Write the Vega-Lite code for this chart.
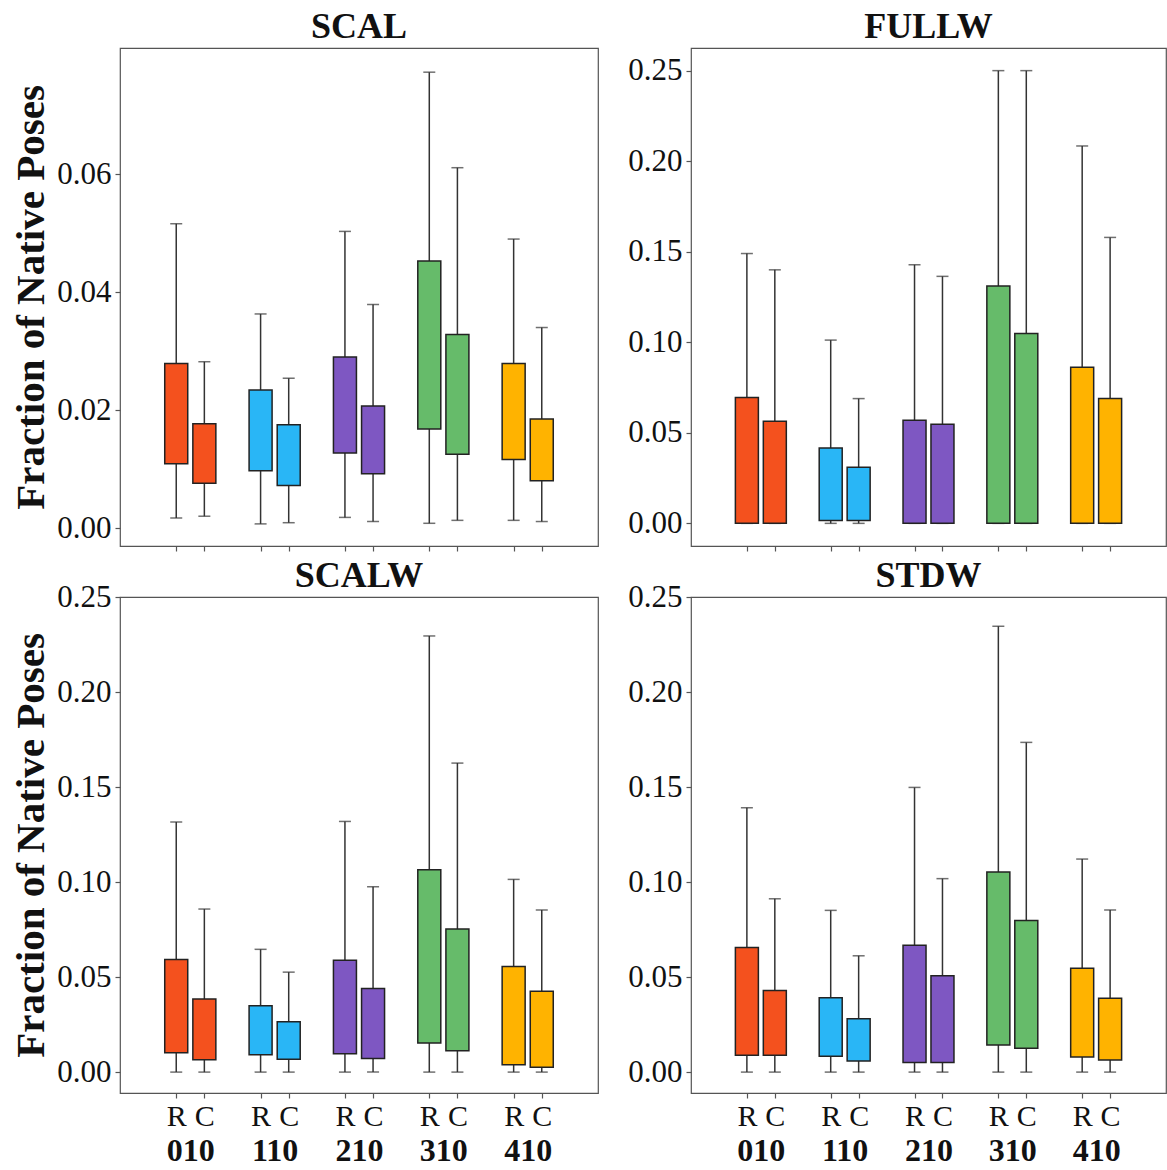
{
  "$schema": "https://vega.github.io/schema/vega-lite/v6.json",
  "padding": {"left": 10, "top": 8, "right": 0, "bottom": 0},
  "background": "white",
  "datasets": {
    "boxes": [
      {"panel": "SCAL", "group": "010", "type": "R", "box": "010 R", "lo": 0.0017, "q1": 0.0109, "q3": 0.0279, "hi": 0.0516},
      {"panel": "SCAL", "group": "010", "type": "C", "box": "010 C", "lo": 0.0020, "q1": 0.0076, "q3": 0.0177, "hi": 0.0282},
      {"panel": "SCAL", "group": "110", "type": "R", "box": "110 R", "lo": 0.0007, "q1": 0.0097, "q3": 0.0234, "hi": 0.0363},
      {"panel": "SCAL", "group": "110", "type": "C", "box": "110 C", "lo": 0.0009, "q1": 0.0072, "q3": 0.0175, "hi": 0.0254},
      {"panel": "SCAL", "group": "210", "type": "R", "box": "210 R", "lo": 0.0018, "q1": 0.0127, "q3": 0.0290, "hi": 0.0503},
      {"panel": "SCAL", "group": "210", "type": "C", "box": "210 C", "lo": 0.0011, "q1": 0.0092, "q3": 0.0207, "hi": 0.0379},
      {"panel": "SCAL", "group": "310", "type": "R", "box": "310 R", "lo": 0.0008, "q1": 0.0168, "q3": 0.0453, "hi": 0.0773},
      {"panel": "SCAL", "group": "310", "type": "C", "box": "310 C", "lo": 0.0013, "q1": 0.0125, "q3": 0.0328, "hi": 0.0611},
      {"panel": "SCAL", "group": "410", "type": "R", "box": "410 R", "lo": 0.0013, "q1": 0.0116, "q3": 0.0279, "hi": 0.0490},
      {"panel": "SCAL", "group": "410", "type": "C", "box": "410 C", "lo": 0.0011, "q1": 0.0080, "q3": 0.0185, "hi": 0.0340},

      {"panel": "FULLW", "group": "010", "type": "R", "box": "010 R", "lo": 0, "q1": 0, "q3": 0.0695, "hi": 0.149},
      {"panel": "FULLW", "group": "010", "type": "C", "box": "010 C", "lo": 0, "q1": 0, "q3": 0.0564, "hi": 0.140},
      {"panel": "FULLW", "group": "110", "type": "R", "box": "110 R", "lo": 0, "q1": 0.0016, "q3": 0.0416, "hi": 0.1012},
      {"panel": "FULLW", "group": "110", "type": "C", "box": "110 C", "lo": 0, "q1": 0.0016, "q3": 0.0310, "hi": 0.0689},
      {"panel": "FULLW", "group": "210", "type": "R", "box": "210 R", "lo": 0, "q1": 0, "q3": 0.0569, "hi": 0.1428},
      {"panel": "FULLW", "group": "210", "type": "C", "box": "210 C", "lo": 0, "q1": 0, "q3": 0.0547, "hi": 0.1364},
      {"panel": "FULLW", "group": "310", "type": "R", "box": "310 R", "lo": 0, "q1": 0, "q3": 0.1311, "hi": 0.25},
      {"panel": "FULLW", "group": "310", "type": "C", "box": "310 C", "lo": 0, "q1": 0, "q3": 0.1048, "hi": 0.25},
      {"panel": "FULLW", "group": "410", "type": "R", "box": "410 R", "lo": 0, "q1": 0, "q3": 0.0862, "hi": 0.2084},
      {"panel": "FULLW", "group": "410", "type": "C", "box": "410 C", "lo": 0, "q1": 0, "q3": 0.0689, "hi": 0.1579},

      {"panel": "SCALW", "group": "010", "type": "R", "box": "010 R", "lo": 0, "q1": 0.0102, "q3": 0.0593, "hi": 0.1316},
      {"panel": "SCALW", "group": "010", "type": "C", "box": "010 C", "lo": 0, "q1": 0.0065, "q3": 0.0384, "hi": 0.0858},
      {"panel": "SCALW", "group": "110", "type": "R", "box": "110 R", "lo": 0, "q1": 0.0091, "q3": 0.0349, "hi": 0.0646},
      {"panel": "SCALW", "group": "110", "type": "C", "box": "110 C", "lo": 0, "q1": 0.0067, "q3": 0.0265, "hi": 0.0526},
      {"panel": "SCALW", "group": "210", "type": "R", "box": "210 R", "lo": 0, "q1": 0.0096, "q3": 0.0589, "hi": 0.1319},
      {"panel": "SCALW", "group": "210", "type": "C", "box": "210 C", "lo": 0, "q1": 0.0072, "q3": 0.0440, "hi": 0.0975},
      {"panel": "SCALW", "group": "310", "type": "R", "box": "310 R", "lo": 0, "q1": 0.0153, "q3": 0.1065, "hi": 0.2295},
      {"panel": "SCALW", "group": "310", "type": "C", "box": "310 C", "lo": 0, "q1": 0.0112, "q3": 0.0753, "hi": 0.1626},
      {"panel": "SCALW", "group": "410", "type": "R", "box": "410 R", "lo": 0, "q1": 0.0039, "q3": 0.0556, "hi": 0.1014},
      {"panel": "SCALW", "group": "410", "type": "C", "box": "410 C", "lo": 0, "q1": 0.0026, "q3": 0.0426, "hi": 0.0853},

      {"panel": "STDW", "group": "010", "type": "R", "box": "010 R", "lo": 0, "q1": 0.0088, "q3": 0.0656, "hi": 0.1391},
      {"panel": "STDW", "group": "010", "type": "C", "box": "010 C", "lo": 0, "q1": 0.0088, "q3": 0.0430, "hi": 0.0912},
      {"panel": "STDW", "group": "110", "type": "R", "box": "110 R", "lo": 0, "q1": 0.0084, "q3": 0.0391, "hi": 0.0851},
      {"panel": "STDW", "group": "110", "type": "C", "box": "110 C", "lo": 0, "q1": 0.0058, "q3": 0.0281, "hi": 0.0612},
      {"panel": "STDW", "group": "210", "type": "R", "box": "210 R", "lo": 0, "q1": 0.0051, "q3": 0.0667, "hi": 0.1498},
      {"panel": "STDW", "group": "210", "type": "C", "box": "210 C", "lo": 0, "q1": 0.0051, "q3": 0.0507, "hi": 0.1018},
      {"panel": "STDW", "group": "310", "type": "R", "box": "310 R", "lo": 0, "q1": 0.0142, "q3": 0.1053, "hi": 0.2346},
      {"panel": "STDW", "group": "310", "type": "C", "box": "310 C", "lo": 0, "q1": 0.0126, "q3": 0.0798, "hi": 0.1735},
      {"panel": "STDW", "group": "410", "type": "R", "box": "410 R", "lo": 0, "q1": 0.0079, "q3": 0.0546, "hi": 0.1121},
      {"panel": "STDW", "group": "410", "type": "C", "box": "410 C", "lo": 0, "q1": 0.0063, "q3": 0.0389, "hi": 0.0853}
    ]
  },
  "config": {
    "font": "Liberation Serif",
    "view": {"stroke": "#555", "strokeWidth": 1.2},
    "axis": {
      "grid": false,
      "domain": false,
      "labelFont": "Liberation Serif",
      "labelFontSize": 31,
      "labelColor": "#111",
      "tickColor": "#555",
      "tickWidth": 1.2,
      "tickSize": 5,
      "titleFont": "Liberation Serif",
      "titleFontSize": 41,
      "titleFontWeight": "bold",
      "titleColor": "#111"
    },
    "axisY": {"labelPadding": 4, "titlePadding": 4},
    "title": {"font": "Liberation Serif", "fontSize": 36, "fontWeight": "bold", "color": "#111", "offset": 2, "anchor": "middle", "frame": "group"}
  },
  "spacing": 4,
  "vconcat": [
    {
      "spacing": 28,
      "hconcat": [
        {
          "width": 478, "height": 498,
          "title": "SCAL",
          "data": {"name": "boxes"},
          "transform": [{"filter": "datum.panel === 'SCAL'"}],
          "encoding": {
            "x": {"field": "box", "type": "nominal",
              "scale": {"type": "point", "padding": 1, "domain": ["p1", "010 R", "010 C", "p4", "110 R", "110 C", "p7", "210 R", "210 C", "p10", "310 R", "310 C", "p13", "410 R", "410 C", "p16"]},
              "axis": {"values": ["010 R", "010 C", "110 R", "110 C", "210 R", "210 C", "310 R", "310 C", "410 R", "410 C"], "labels": false, "title": null}}
          },
          "layer": [
            {"mark": {"type": "rule", "stroke": "#333", "strokeWidth": 1.5},
             "encoding": {"y": {"field": "lo", "type": "quantitative", "title": "Fraction of Native Poses", "scale": {"domain": [-0.00305, 0.0814], "nice": false, "zero": false}, "axis": {"values": [0, 0.02, 0.04, 0.06], "format": ".2f"}}, "y2": {"field": "hi"}}},
            {"mark": {"type": "tick", "orient": "horizontal", "size": 12, "thickness": 1.5, "color": "#333"},
             "encoding": {"y": {"field": "hi", "type": "quantitative", "title": "Fraction of Native Poses"}}},
            {"mark": {"type": "tick", "orient": "horizontal", "size": 12, "thickness": 1.5, "color": "#333"},
             "encoding": {"y": {"field": "lo", "type": "quantitative", "title": "Fraction of Native Poses"}}},
            {"mark": {"type": "bar", "width": 23, "stroke": "#222", "strokeWidth": 1.5},
             "encoding": {"y": {"field": "q1", "type": "quantitative", "title": "Fraction of Native Poses"}, "y2": {"field": "q3"},
               "color": {"field": "group", "type": "nominal", "legend": null, "scale": {"domain": ["010", "110", "210", "310", "410"], "range": ["#F4511E", "#29B6F6", "#7E57C2", "#66BB6A", "#FFB300"]}}}}
          ]
        },
        {
          "width": 475, "height": 498,
          "title": "FULLW",
          "data": {"name": "boxes"},
          "transform": [{"filter": "datum.panel === 'FULLW'"}],
          "encoding": {
            "x": {"field": "box", "type": "nominal",
              "scale": {"type": "point", "padding": 1, "domain": ["p1", "010 R", "010 C", "p4", "110 R", "110 C", "p7", "210 R", "210 C", "p10", "310 R", "310 C", "p13", "410 R", "410 C", "p16"]},
              "axis": {"values": ["010 R", "010 C", "110 R", "110 C", "210 R", "210 C", "310 R", "310 C", "410 R", "410 C"], "labels": false, "title": null}}
          },
          "layer": [
            {"mark": {"type": "rule", "stroke": "#333", "strokeWidth": 1.5},
             "encoding": {"y": {"field": "lo", "type": "quantitative", "title": null, "scale": {"domain": [-0.0125, 0.2625], "nice": false, "zero": false}, "axis": {"values": [0, 0.05, 0.1, 0.15, 0.2, 0.25], "format": ".2f"}}, "y2": {"field": "hi"}}},
            {"mark": {"type": "tick", "orient": "horizontal", "size": 12, "thickness": 1.5, "color": "#333"},
             "encoding": {"y": {"field": "hi", "type": "quantitative", "title": null}}},
            {"mark": {"type": "tick", "orient": "horizontal", "size": 12, "thickness": 1.5, "color": "#333"},
             "encoding": {"y": {"field": "lo", "type": "quantitative", "title": null}}},
            {"mark": {"type": "bar", "width": 23, "stroke": "#222", "strokeWidth": 1.5},
             "encoding": {"y": {"field": "q1", "type": "quantitative", "title": null}, "y2": {"field": "q3"},
               "color": {"field": "group", "type": "nominal", "legend": null, "scale": {"domain": ["010", "110", "210", "310", "410"], "range": ["#F4511E", "#29B6F6", "#7E57C2", "#66BB6A", "#FFB300"]}}}}
          ]
        }
      ]
    },
    {
      "spacing": 28,
      "hconcat": [
        {
          "width": 478, "height": 496,
          "title": {"text": "SCALW", "offset": -14},
          "data": {"name": "boxes"},
          "transform": [{"filter": "datum.panel === 'SCALW'"}],
          "layer": [
            {
              "layer": [
                {"mark": {"type": "rule", "stroke": "#333", "strokeWidth": 1.5},
                 "encoding": {
                   "x": {"field": "box", "type": "nominal",
                     "scale": {"type": "point", "padding": 1, "domain": ["p1", "010 R", "010 C", "p4", "110 R", "110 C", "p7", "210 R", "210 C", "p10", "310 R", "310 C", "p13", "410 R", "410 C", "p16"]},
                     "axis": {"orient": "bottom", "values": ["010 R", "010 C", "110 R", "110 C", "210 R", "210 C", "310 R", "310 C", "410 R", "410 C"], "labelExpr": "split(datum.label, ' ')[1]", "labelAngle": 0, "labelPadding": 3, "labelFontSize": 30, "title": null}},
                   "y": {"field": "lo", "type": "quantitative", "title": "Fraction of Native Poses", "scale": {"domain": [-0.011, 0.25], "nice": false, "zero": false}, "axis": {"values": [0, 0.05, 0.1, 0.15, 0.2, 0.25], "format": ".2f"}}, "y2": {"field": "hi"}}},
                {"mark": {"type": "tick", "orient": "horizontal", "size": 12, "thickness": 1.5, "color": "#333"},
                 "encoding": {"x": {"field": "box", "type": "nominal"}, "y": {"field": "hi", "type": "quantitative", "title": "Fraction of Native Poses"}}},
                {"mark": {"type": "tick", "orient": "horizontal", "size": 12, "thickness": 1.5, "color": "#333"},
                 "encoding": {"x": {"field": "box", "type": "nominal"}, "y": {"field": "lo", "type": "quantitative", "title": "Fraction of Native Poses"}}},
                {"mark": {"type": "bar", "width": 23, "stroke": "#222", "strokeWidth": 1.5},
                 "encoding": {"x": {"field": "box", "type": "nominal"}, "y": {"field": "q1", "type": "quantitative", "title": "Fraction of Native Poses"}, "y2": {"field": "q3"},
                   "color": {"field": "group", "type": "nominal", "legend": null, "scale": {"domain": ["010", "110", "210", "310", "410"], "range": ["#F4511E", "#29B6F6", "#7E57C2", "#66BB6A", "#FFB300"]}}}}
              ]
            },
            {"mark": {"type": "point", "opacity": 0},
             "encoding": {
               "x": {"field": "group", "type": "nominal", "scale": {"type": "point", "padding": 0.8333, "domain": ["010", "110", "210", "310", "410"]},
                 "axis": {"orient": "bottom", "ticks": false, "tickSize": 0, "labelPadding": 42, "labelAngle": 0, "labelFontSize": 32, "labelFontWeight": "bold", "title": null}},
               "y": {"field": "hi", "type": "quantitative", "title": "Fraction of Native Poses"}}}
          ],
          "resolve": {"scale": {"x": "independent"}}
        },
        {
          "width": 475, "height": 496,
          "title": {"text": "STDW", "offset": -14},
          "data": {"name": "boxes"},
          "transform": [{"filter": "datum.panel === 'STDW'"}],
          "layer": [
            {
              "layer": [
                {"mark": {"type": "rule", "stroke": "#333", "strokeWidth": 1.5},
                 "encoding": {
                   "x": {"field": "box", "type": "nominal",
                     "scale": {"type": "point", "padding": 1, "domain": ["p1", "010 R", "010 C", "p4", "110 R", "110 C", "p7", "210 R", "210 C", "p10", "310 R", "310 C", "p13", "410 R", "410 C", "p16"]},
                     "axis": {"orient": "bottom", "values": ["010 R", "010 C", "110 R", "110 C", "210 R", "210 C", "310 R", "310 C", "410 R", "410 C"], "labelExpr": "split(datum.label, ' ')[1]", "labelAngle": 0, "labelPadding": 3, "labelFontSize": 30, "title": null}},
                   "y": {"field": "lo", "type": "quantitative", "title": null, "scale": {"domain": [-0.011, 0.25], "nice": false, "zero": false}, "axis": {"values": [0, 0.05, 0.1, 0.15, 0.2, 0.25], "format": ".2f"}}, "y2": {"field": "hi"}}},
                {"mark": {"type": "tick", "orient": "horizontal", "size": 12, "thickness": 1.5, "color": "#333"},
                 "encoding": {"x": {"field": "box", "type": "nominal"}, "y": {"field": "hi", "type": "quantitative", "title": null}}},
                {"mark": {"type": "tick", "orient": "horizontal", "size": 12, "thickness": 1.5, "color": "#333"},
                 "encoding": {"x": {"field": "box", "type": "nominal"}, "y": {"field": "lo", "type": "quantitative", "title": null}}},
                {"mark": {"type": "bar", "width": 23, "stroke": "#222", "strokeWidth": 1.5},
                 "encoding": {"x": {"field": "box", "type": "nominal"}, "y": {"field": "q1", "type": "quantitative", "title": null}, "y2": {"field": "q3"},
                   "color": {"field": "group", "type": "nominal", "legend": null, "scale": {"domain": ["010", "110", "210", "310", "410"], "range": ["#F4511E", "#29B6F6", "#7E57C2", "#66BB6A", "#FFB300"]}}}}
              ]
            },
            {"mark": {"type": "point", "opacity": 0},
             "encoding": {
               "x": {"field": "group", "type": "nominal", "scale": {"type": "point", "padding": 0.8333, "domain": ["010", "110", "210", "310", "410"]},
                 "axis": {"orient": "bottom", "ticks": false, "tickSize": 0, "labelPadding": 42, "labelAngle": 0, "labelFontSize": 32, "labelFontWeight": "bold", "title": null}},
               "y": {"field": "hi", "type": "quantitative", "title": null}}}
          ],
          "resolve": {"scale": {"x": "independent"}}
        }
      ]
    }
  ]
}
